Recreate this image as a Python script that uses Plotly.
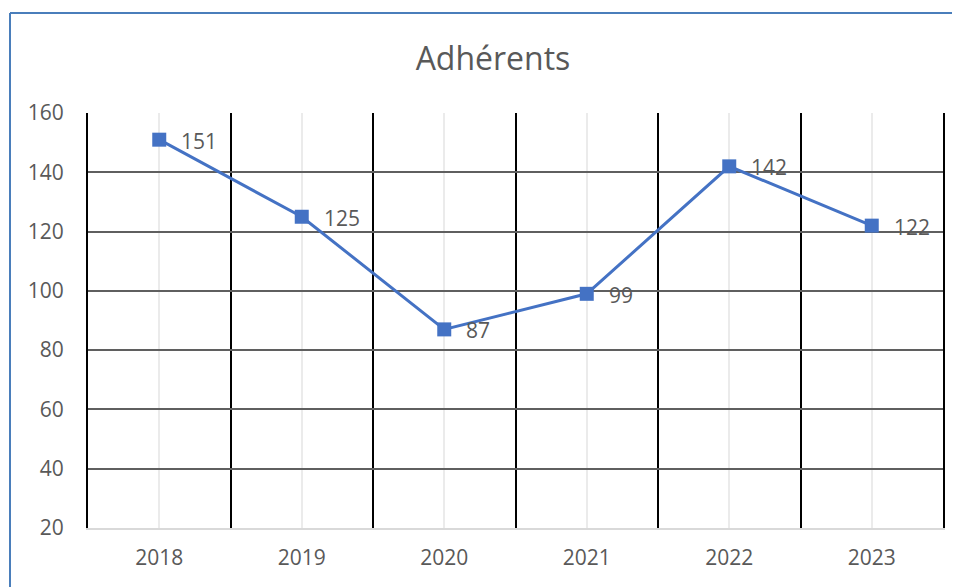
import plotly.graph_objects as go

years = ["2018", "2019", "2020", "2021", "2022", "2023"]
adherents = [151, 125, 87, 99, 142, 122]
y_ticks = [20, 40, 60, 80, 100, 120, 140, 160]

# page body adds an 8px margin, so the figure is 8px smaller and shifted
OFF = 8
W, H = 960 - OFF, 587 - OFF
L, R, T, B = 88 - OFF, 17, 113 - OFF, 59
pw, ph = W - L - R, H - T - B

idx = list(range(len(years)))
TXT = "#595959"
FONT = "Open Sans"

fig = go.Figure()
fig.add_trace(go.Scatter(
    x=idx, y=adherents,
    mode="lines+markers",
    line=dict(color="#4472C4", width=3),
    marker=dict(symbol="square", size=14, color="#4472C4"),
    cliponaxis=False,
    showlegend=False,
))

annotations = [
    dict(x=xi, y=v, text=str(v), xref="x", yref="y", showarrow=False,
         xanchor="left", yanchor="middle", xshift=20, yshift=-1,
         font=dict(family=FONT, size=21, color=TXT))
    for xi, v in zip(idx, adherents)
]

# frame (left + top edges) in paper coordinates
x_border = (10 - OFF - L) / pw
y_border = 1 + (T - (13 - OFF)) / ph
y_bottom = -(B + 5) / ph
x_right = 1 + (R + 10) / pw

fig.update_layout(
    width=W, height=H,
    margin=dict(l=L, r=R, t=T, b=B),
    paper_bgcolor="white", plot_bgcolor="white",
    title=dict(text="Adhérents", x=(493 - OFF) / W, xanchor="center", y=1 - (59 - OFF) / H, yanchor="middle",
               font=dict(family=FONT, size=32, color=TXT)),
    xaxis=dict(
        range=[-0.5, len(years) - 0.5],
        tickvals=idx, ticktext=years,
        tickfont=dict(family=FONT, size=21, color=TXT),
        showgrid=True, gridcolor="#ebebeb", gridwidth=2,
        minor=dict(tick0=-0.5, dtick=1, showgrid=True, gridcolor="black", gridwidth=2),
        showline=True, linecolor="#d9d9d9", linewidth=2,
        zeroline=False, ticks="", ticklabelstandoff=10,
    ),
    yaxis=dict(
        range=[20, 160],
        tickvals=y_ticks,
        tickfont=dict(family=FONT, size=21, color=TXT),
        showgrid=True, gridcolor="#5f5f5f", gridwidth=2,
        showline=True, linecolor="black", linewidth=2, mirror=True,
        zeroline=False, ticks="", ticklabelstandoff=18,
    ),
    annotations=annotations,
    shapes=[
        dict(type="line", xref="paper", yref="paper", x0=x_border, x1=x_right, y0=y_border, y1=y_border,
             line=dict(color="#4a7ebb", width=2)),
        dict(type="line", xref="paper", yref="paper", x0=x_border, x1=x_border, y0=y_border, y1=y_bottom,
             line=dict(color="#4a7ebb", width=2)),
    ],
)

fig.write_html("out.html")
